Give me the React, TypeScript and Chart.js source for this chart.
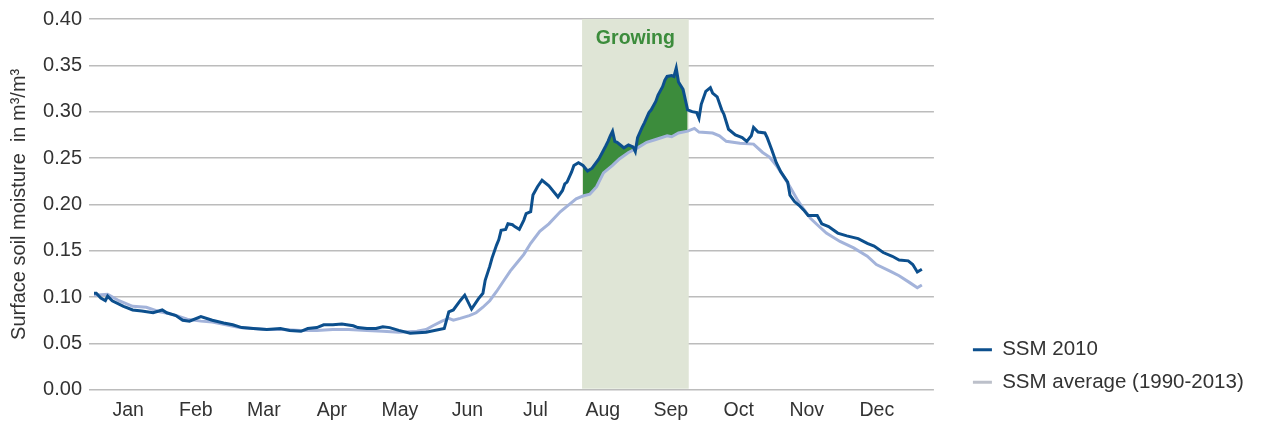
import { useEffect, useRef } from 'react';
import { Chart, registerables } from 'chart.js';

Chart.register(...registerables);

// ---------- data ----------
const MONTH_LABELS = ['Jan', 'Feb', 'Mar', 'Apr', 'May', 'Jun', 'Jul', 'Aug', 'Sep', 'Oct', 'Nov', 'Dec'];
const MONTH_TICK_DAYS = [16.0, 45.8, 75.7, 105.6, 135.5, 165.2, 195.1, 224.7, 254.6, 284.5, 314.4, 345.2];

const SSM2010_DAYS = [
  1, 2, 4, 6, 7, 9, 14, 18, 22, 27, 31, 33, 37, 40, 43, 48, 53, 58, 62, 66, 71, 77, 83, 87, 92, 95, 99,
  102, 106, 110, 115, 117, 121, 125, 128, 131, 135, 140, 147, 155, 157, 159, 162, 164, 167, 170, 172,
  173, 175, 176, 178, 179, 180, 182, 183, 185, 186, 188, 190, 191, 193, 194, 196, 198, 201, 205, 207,
  208, 209, 211, 212, 214, 216, 218, 220, 223, 226, 227, 228, 229, 230, 231, 233, 234, 236, 238, 239,
  240, 242, 243, 245, 246, 248, 249, 251, 252, 253, 255, 256, 257, 258, 260, 261, 262, 264, 266, 267,
  268, 270, 272, 273, 275, 277, 278, 280, 283, 286, 288, 290, 291, 293, 296, 297, 299, 301, 303, 306,
  307, 309, 311, 313, 315, 319, 321, 324, 328, 332, 337, 341, 344, 348, 352, 355, 359, 361, 363, 365,
];
const SSM2010_VALUES = [
  0.104, 0.104, 0.099, 0.096, 0.101, 0.096, 0.090, 0.086, 0.085, 0.083, 0.086, 0.083, 0.080, 0.075, 0.074,
  0.079, 0.075, 0.072, 0.070, 0.067, 0.066, 0.065, 0.066, 0.064, 0.063, 0.066, 0.067, 0.070, 0.070, 0.071,
  0.069, 0.067, 0.066, 0.066, 0.068, 0.067, 0.064, 0.061, 0.062, 0.066, 0.084, 0.086, 0.096, 0.102, 0.087,
  0.098, 0.104, 0.118, 0.133, 0.142, 0.156, 0.162, 0.172, 0.173, 0.179, 0.178, 0.176, 0.173, 0.183, 0.190,
  0.192, 0.210, 0.219, 0.226, 0.220, 0.208, 0.215, 0.222, 0.224, 0.235, 0.242, 0.245, 0.242, 0.236, 0.239,
  0.249, 0.263, 0.268, 0.274, 0.279, 0.268, 0.267, 0.263, 0.261, 0.264, 0.262, 0.257, 0.272, 0.283, 0.288,
  0.299, 0.302, 0.311, 0.318, 0.327, 0.334, 0.338, 0.339, 0.338, 0.347, 0.332, 0.324, 0.313, 0.302, 0.300,
  0.299, 0.293, 0.308, 0.322, 0.326, 0.320, 0.316, 0.302, 0.297, 0.281, 0.275, 0.272, 0.268, 0.274, 0.283,
  0.278, 0.277, 0.272, 0.259, 0.245, 0.235, 0.224, 0.210, 0.203, 0.199, 0.194, 0.188, 0.188, 0.179, 0.176,
  0.169, 0.166, 0.163, 0.158, 0.155, 0.148, 0.144, 0.140, 0.139, 0.135, 0.127, 0.130,
];

const AVG_DAYS = [
  1, 7, 12, 18, 24, 30, 36, 42, 48, 53, 59, 65, 71, 77, 84, 92, 99, 106, 113, 121, 128, 135, 143, 147, 150,
  154, 157, 159, 162, 166, 169, 172, 175, 178, 181, 184, 187, 190, 193, 197, 201, 206, 210, 213, 216, 219,
  222, 225, 229, 232, 236, 240, 244, 248, 253, 255, 258, 262, 265, 267, 273, 276, 279, 285, 291, 295, 298,
  301, 304, 307, 310, 313, 316, 319, 323, 329, 335, 341, 345, 351, 355, 360, 363, 365,
];
const AVG_VALUES = [
  0.102, 0.103, 0.096, 0.090, 0.089, 0.084, 0.081, 0.076, 0.074, 0.073, 0.070, 0.067, 0.066, 0.065, 0.065,
  0.064, 0.064, 0.065, 0.065, 0.064, 0.063, 0.062, 0.063, 0.065, 0.069, 0.074, 0.077, 0.075, 0.077, 0.080,
  0.083, 0.089, 0.096, 0.106, 0.117, 0.128, 0.137, 0.146, 0.158, 0.171, 0.179, 0.192, 0.200, 0.206, 0.209,
  0.211, 0.219, 0.234, 0.242, 0.249, 0.256, 0.261, 0.267, 0.270, 0.274, 0.273, 0.277, 0.279, 0.282, 0.278,
  0.277, 0.274, 0.268, 0.266, 0.265, 0.256, 0.251, 0.242, 0.231, 0.219, 0.206, 0.195, 0.185, 0.178, 0.169,
  0.160, 0.153, 0.144, 0.135, 0.128, 0.123, 0.115, 0.110, 0.113,
];

const GROWING_START = 215.6;
const GROWING_END = 262.5;
const GROWING_LABEL = 'Growing';

const Y_TICK_STEP = 0.05;

// ---------- style ----------
const FONT = "'Liberation Sans', Arial, Helvetica, sans-serif";
const TEXT = '#333333';
const DARK = '#0c4f8d';
const LIGHT = '#a3b3da';
const LIGHT_LEGEND = '#bcc0ca';
const GREEN = '#3c8c3c';
const BAND = '#dfe5d6';

const growingBand = {
  id: 'growingBand',
  beforeDatasetsDraw(chart: any) {
    const { ctx, chartArea, scales } = chart;
    const x0 = scales.x.getPixelForValue(GROWING_START);
    const x1 = scales.x.getPixelForValue(GROWING_END);
    ctx.save();
    ctx.fillStyle = BAND;
    ctx.fillRect(x0, chartArea.top, x1 - x0, chartArea.bottom - chartArea.top - 1);
    ctx.fillStyle = GREEN;
    ctx.font = `bold 19.5px ${FONT}`;
    ctx.textAlign = 'center';
    ctx.textBaseline = 'alphabetic';
    ctx.fillText(GROWING_LABEL, (x0 + x1) / 2, chartArea.top + 25);
    ctx.restore();
  },
};

export default function App() {
  const ref = useRef<HTMLCanvasElement>(null);

  useEffect(() => {
    const ssm = SSM2010_DAYS.map((d, i) => ({ x: d, y: SSM2010_VALUES[i] }));
    const avg = AVG_DAYS.map((d, i) => ({ x: d, y: AVG_VALUES[i] }));
    const growing = ssm.filter((p) => p.x >= GROWING_START && p.x <= GROWING_END);

    const chart = new Chart(ref.current as HTMLCanvasElement, {
      type: 'line',
      data: {
        datasets: [
          {
            label: 'SSM 2010',
            data: ssm,
            borderColor: DARK,
            backgroundColor: DARK,
            borderWidth: 3,
            pointRadius: 0,
            pointBorderWidth: 3,
            pointBorderColor: DARK,
            pointStyle: 'line',
            tension: 0,
            fill: false,
          },
          {
            label: 'SSM average (1990-2013)',
            data: avg,
            borderColor: LIGHT,
            backgroundColor: LIGHT,
            borderWidth: 3,
            pointRadius: 0,
            pointBorderWidth: 3,
            pointBorderColor: LIGHT_LEGEND,
            pointStyle: 'line',
            tension: 0,
            fill: false,
          },
          {
            label: 'growing',
            data: growing,
            borderWidth: 0,
            borderColor: 'rgba(0,0,0,0)',
            backgroundColor: GREEN,
            pointRadius: 0,
            tension: 0,
            fill: { target: 1, above: GREEN, below: 'rgba(0,0,0,0)' },
          },
        ],
      },
      options: {
        responsive: false,
        animation: false,
        layout: { padding: { left: 0, right: 7.25, top: 15, bottom: 0 } },
        plugins: {
          tooltip: { enabled: false },
          legend: {
            position: 'right',
            align: 'start',
            maxWidth: 400,
            title: {
              display: true,
              text: '',
              font: { family: FONT, size: 10, lineHeight: 1 },
              padding: { top: 302.5, bottom: 0 },
            },
            labels: {
              usePointStyle: true,
              pointStyleWidth: 19,
              padding: 12,
              color: TEXT,
              font: { family: FONT, size: 20.5 },
              filter: (item: any) => item.datasetIndex < 2,
            },
          },
        },
        scales: {
          x: {
            type: 'linear',
            min: -1.2,
            max: 370.3,
            grid: { display: false, drawTicks: false },
            border: { display: false },
            afterBuildTicks: (scale: any) => {
              scale.ticks = MONTH_TICK_DAYS.map((v) => ({ value: v }));
            },
            afterFit: (scale: any) => {
              scale.height = 33.3;
            },
            ticks: {
              autoSkip: false,
              maxRotation: 0,
              padding: 9.5,
              color: TEXT,
              font: { family: FONT, size: 19.5 },
              callback: (_v: any, i: number) => MONTH_LABELS[i],
            },
          },
          y: {
            type: 'linear',
            min: 0,
            max: 0.4,
            afterFit: (scale: any) => {
              scale.width = 89;
            },
            grid: { color: '#bcbcbc', lineWidth: 1.5, drawTicks: false },
            border: { display: false },
            ticks: {
              stepSize: Y_TICK_STEP,
              padding: 7,
              color: TEXT,
              font: { family: FONT, size: 20 },
              callback: (v: any) => Number(v).toFixed(2),
            },
            title: {
              display: true,
              text: 'Surface soil moisture  in m³/m³',
              color: TEXT,
              font: { family: FONT, size: 20 },
              padding: { top: 7, bottom: 0 },
            },
          },
          pad: {
            type: 'linear',
            position: 'right',
            display: true,
            grid: { display: false, drawTicks: false },
            border: { display: false },
            ticks: { display: false },
            afterFit: (scale: any) => {
              scale.width = 27;
            },
          },
        },
      } as any,
      plugins: [growingBand],
    });
    return () => chart.destroy();
  }, []);

  return (
    <div style={{ position: 'absolute', left: 0, top: 0, width: 1261, height: 423, background: '#ffffff' }}>
      <canvas ref={ref} width={1261} height={423} style={{ display: 'block' }} />
    </div>
  );
}
